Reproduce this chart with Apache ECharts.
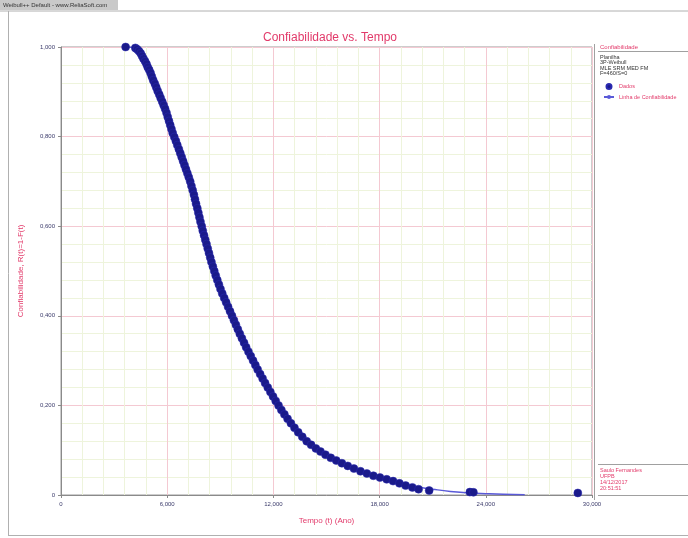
<!DOCTYPE html>
<html>
<head>
    <meta charset="UTF-8">
    <title>Confiabilidade vs. Tempo</title>
    <style>
        * { box-sizing: border-box; }
        html, body { margin: 0; padding: 0; background: #ffffff; }
        #chart { width: 688px; height: 538px; }
    </style>
    <script src="https://cdn.jsdelivr.net/npm/echarts@6.0.0/dist/echarts.min.js"></script>
</head>
<body>
<div id="chart"></div>
<script>
    // pontos: tempo (anos) e confiabilidade
    var dadosT = [3.65, 4.20, 4.30, 4.40, 4.50, 4.58, 4.66, 4.75, 4.83, 4.90, 4.98, 5.06, 5.13, 5.21, 5.30, 5.38,
        5.46, 5.55, 5.63, 5.72, 5.80, 5.88, 5.96, 6.03, 6.10, 6.17, 6.24, 6.31,
        6.40, 6.49, 6.57, 6.66, 6.74, 6.82, 6.90, 6.98, 7.06, 7.14, 7.22, 7.30,
        7.37, 7.44, 7.51, 7.57, 7.63, 7.70, 7.76, 7.82, 7.88, 7.95,
        8.01, 8.08, 8.15, 8.22, 8.29, 8.36, 8.43, 8.50, 8.58, 8.66,
        8.74, 8.83, 8.92, 9.01, 9.11, 9.22, 9.33, 9.44, 9.55, 9.66,
        9.77, 9.88, 9.99, 10.10, 10.22, 10.34, 10.46, 10.59, 10.72, 10.85,
        10.98, 11.11, 11.25, 11.39, 11.53, 11.68, 11.83, 11.98, 12.13, 12.29,
        12.45, 12.62, 12.80, 12.99, 13.19, 13.40, 13.63, 13.88,
        14.13, 14.40, 14.66, 14.94, 15.24, 15.55, 15.87, 16.20, 16.55, 16.92, 17.28, 17.65, 18.02, 18.40, 18.76,
        19.12, 19.47, 19.85, 20.20, 20.80, 23.10, 23.30, 29.20];
    var dadosR = [1.000, 0.998, 0.995, 0.991, 0.986, 0.980, 0.974, 0.968, 0.962, 0.955, 0.949, 0.942, 0.934, 0.926,
        0.918, 0.910, 0.902, 0.894, 0.886, 0.878, 0.870, 0.862, 0.853, 0.844, 0.835, 0.826, 0.817, 0.808,
        0.799, 0.790, 0.781, 0.772, 0.763, 0.754, 0.745, 0.736, 0.727, 0.718, 0.709, 0.700,
        0.690, 0.680, 0.670, 0.660, 0.650, 0.640, 0.630, 0.620, 0.610, 0.600,
        0.590, 0.580, 0.570, 0.560, 0.550, 0.540, 0.530, 0.520, 0.510, 0.500,
        0.490, 0.480, 0.470, 0.460, 0.450, 0.440, 0.430, 0.420, 0.410, 0.400,
        0.390, 0.380, 0.370, 0.360, 0.350, 0.340, 0.330, 0.320, 0.310, 0.300,
        0.290, 0.280, 0.270, 0.260, 0.250, 0.240, 0.230, 0.220, 0.210, 0.200,
        0.190, 0.180, 0.170, 0.160, 0.150, 0.140, 0.130, 0.120,
        0.112, 0.104, 0.097, 0.090, 0.083, 0.077, 0.071, 0.065, 0.059, 0.053, 0.048, 0.043, 0.039, 0.035, 0.031,
        0.026, 0.021, 0.017, 0.013, 0.010, 0.0065, 0.0060, 0.0045];

    // linha de confiabilidade (ajuste 3P-Weibull)
    var linhaT = [3.6, 4.2, 4.8, 5.4, 6.0, 6.6, 7.2, 7.8, 8.4, 9.0, 9.6, 10.2, 10.8, 11.4, 12.0, 12.6, 13.2, 13.8,
        14.4, 15.0, 16.0, 17.0, 18.0, 19.0, 20.0, 21.0, 22.0, 23.0, 24.0, 25.0, 26.2];
    var linhaR = [1.0, 0.997, 0.965, 0.908, 0.849, 0.785, 0.708, 0.615, 0.535, 0.462, 0.405, 0.355, 0.302, 0.259,
        0.218, 0.181, 0.150, 0.123, 0.104, 0.089, 0.068, 0.051, 0.038, 0.028, 0.019, 0.013, 0.008, 0.005, 0.003,
        0.0015, 0.0005];

    var infoLinhas = ['Planilha', '3P-Weibull', 'MLE SRM MED FM', 'F=460/S=0'];
    var rodape = ['Saulo Fernandes', 'UFPB', '14/12/2017', '20:51:51'];

    var vermelho = '#e23a6a';
    var azulEscuro = '#1a1a8a';

    function fmt(v) {
        if (v === 0) return '0';
        return v.toFixed(3).replace('.', ',');
    }

    var pontos = dadosT.map(function (t, i) { return [t, dadosR[i]]; });
    var linha = linhaT.map(function (t, i) { return [t, linhaR[i]]; });

    var graficos = [
        {type: 'rect', shape: {x: 0, y: 0, width: 118, height: 10}, style: {fill: '#c9c9c9'}, silent: true},
        {type: 'text', left: 3, top: 2, style: {text: 'Weibull++ Default - www.ReliaSoft.com', fontSize: 6,
            fill: '#333', fontFamily: 'Liberation Sans'}},
        {type: 'line', shape: {x1: 0, y1: 11, x2: 688, y2: 11}, style: {stroke: '#b0b0b0', lineWidth: 1}},
        {type: 'line', shape: {x1: 8.5, y1: 11, x2: 8.5, y2: 536}, style: {stroke: '#b0b0b0', lineWidth: 1}},
        {type: 'line', shape: {x1: 8, y1: 535.5, x2: 688, y2: 535.5}, style: {stroke: '#b0b0b0', lineWidth: 1}},
        {type: 'line', shape: {x1: 594.5, y1: 44, x2: 594.5, y2: 500}, style: {stroke: '#a0a0a0', lineWidth: 1}},
        // caixa da legenda
        {type: 'text', left: 600, top: 44, style: {text: 'Confiabilidade', fontSize: 6, fill: vermelho,
            fontFamily: 'Liberation Sans'}},
        {type: 'line', shape: {x1: 598, y1: 51.5, x2: 688, y2: 51.5}, style: {stroke: '#a0a0a0', lineWidth: 1}},
        // caixa de rodapé
        {type: 'line', shape: {x1: 598, y1: 464.5, x2: 688, y2: 464.5}, style: {stroke: '#a0a0a0', lineWidth: 1}},
        {type: 'line', shape: {x1: 598, y1: 495.5, x2: 688, y2: 495.5}, style: {stroke: '#a0a0a0', lineWidth: 1}}
    ];
    infoLinhas.forEach(function (s, i) {
        graficos.push({type: 'text', left: 600, top: 54 + i * 5.5, style: {text: s, fontSize: 5.5, fill: '#333',
            fontFamily: 'Liberation Sans'}});
    });
    rodape.forEach(function (s, i) {
        graficos.push({type: 'text', left: 600, top: 467 + i * 6, style: {text: s, fontSize: 5.5, fill: vermelho,
            fontFamily: 'Liberation Sans'}});
    });

    var chart = echarts.init(document.getElementById('chart'), null, {renderer: 'canvas'});
    chart.setOption({
        animation: false,
        backgroundColor: '#ffffff',
        title: {
            text: 'Confiabilidade vs. Tempo',
            left: 325, top: 27, textAlign: 'center',
            textStyle: {color: vermelho, fontSize: 12, fontWeight: 'normal', fontFamily: 'Liberation Sans'}
        },
        legend: {
            orient: 'vertical', left: 598, top: 78, itemGap: 4,
            itemWidth: 10, itemHeight: 5,
            textStyle: {color: vermelho, fontSize: 5.5, fontFamily: 'Liberation Sans'},
            data: [{name: 'Dados', icon: 'circle'}, {name: 'Linha de Confiabilidade'}]
        },
        grid: {left: 61, right: 96, top: 47, bottom: 43, show: true, borderColor: '#9a9a9a', borderWidth: 1},
        xAxis: {
            type: 'value', min: 0, max: 30, interval: 6,
            name: 'Tempo (t) (Ano)', nameLocation: 'middle', nameGap: 22,
            nameTextStyle: {color: vermelho, fontSize: 8, fontFamily: 'Liberation Sans'},
            axisLine: {lineStyle: {color: '#8a8a8a'}},
            axisTick: {show: true, length: 3, lineStyle: {color: '#8a8a8a'}},
            axisLabel: {formatter: fmt, color: '#3a3a6a', fontSize: 6, margin: 6, fontFamily: 'Liberation Sans'},
            splitLine: {show: true, lineStyle: {color: '#f4c9d2', width: 1}},
            minorTick: {show: false, splitNumber: 5},
            minorSplitLine: {show: true, lineStyle: {color: '#eef4dc', width: 1}}
        },
        yAxis: {
            type: 'value', min: 0, max: 1, interval: 0.2,
            name: 'Confiabilidade, R(t)=1-F(t)', nameLocation: 'middle', nameGap: 36,
            nameTextStyle: {color: vermelho, fontSize: 8, fontFamily: 'Liberation Sans'},
            axisLine: {show: true, lineStyle: {color: '#8a8a8a'}},
            axisTick: {show: true, length: 3, lineStyle: {color: '#8a8a8a'}},
            axisLabel: {formatter: fmt, color: '#3a3a6a', fontSize: 6, margin: 6, fontFamily: 'Liberation Sans'},
            splitLine: {show: true, lineStyle: {color: '#f4c9d2', width: 1}},
            minorTick: {show: false, splitNumber: 5},
            minorSplitLine: {show: true, lineStyle: {color: '#eef4dc', width: 1}}
        },
        series: [
            {
                name: 'Linha de Confiabilidade', type: 'line', data: linha, smooth: true, symbol: 'none',
                lineStyle: {color: '#5a5ad8', width: 1.5}, itemStyle: {color: '#5a5ad8'}, z: 2
            },
            {
                name: 'Dados', type: 'scatter', data: pontos, symbol: 'circle', symbolSize: 8,
                itemStyle: {color: azulEscuro, borderColor: '#2a2ab0', borderWidth: 0.5, opacity: 1}, z: 3
            }
        ],
        graphic: graficos
    });
</script>
</body>
</html>
